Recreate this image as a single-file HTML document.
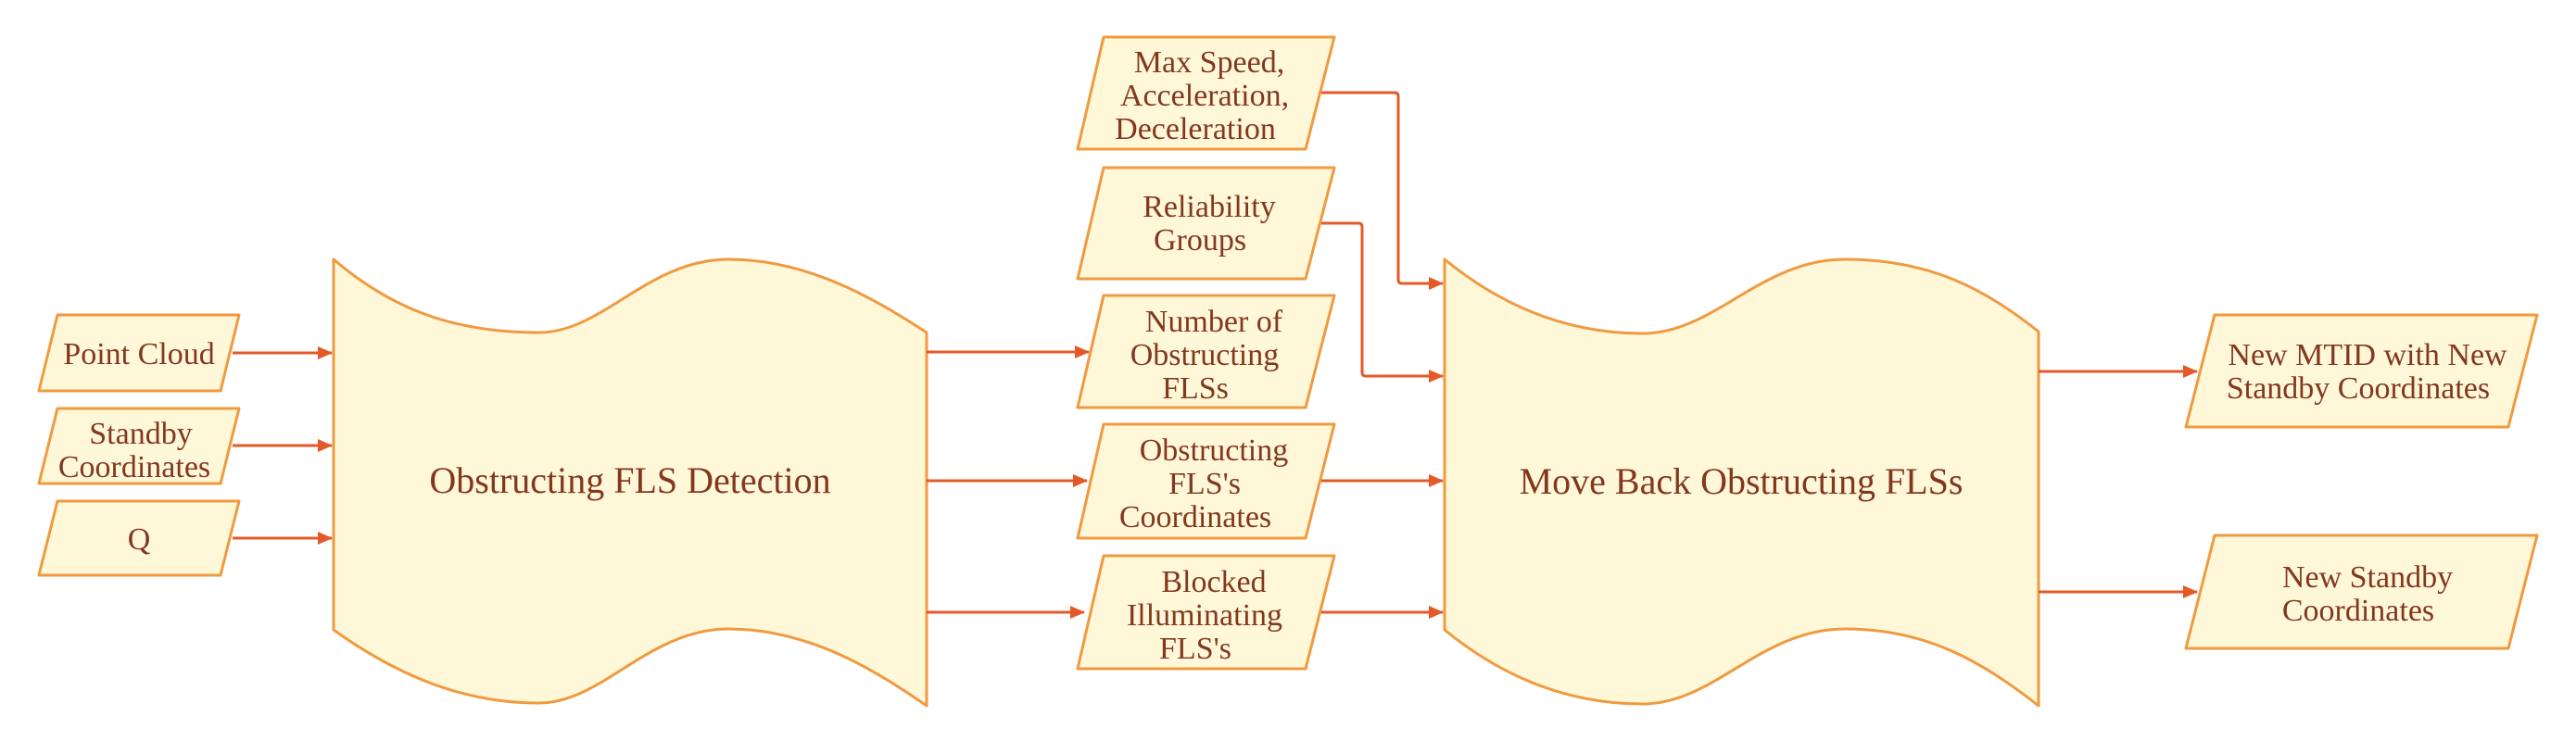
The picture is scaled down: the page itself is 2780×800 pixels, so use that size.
<!DOCTYPE html>
<html><head><meta charset="utf-8"><style>
html,body{margin:0;padding:0;background:#fff;}
svg{display:block;}
text{font-family:"Liberation Serif",serif;fill:#83371f;text-anchor:middle;}
</style></head><body>
<svg width="2780" height="800" viewBox="0 0 2780 800" xmlns="http://www.w3.org/2000/svg">
<defs>
<marker id="a" markerWidth="16" markerHeight="14" refX="15" refY="7" orient="auto" markerUnits="userSpaceOnUse">
<path d="M0,0 L16,7 L0,14 Z" fill="#e35a28"/>
</marker>
</defs>
<g fill="#fff8d8" stroke="#f09a40" stroke-width="3" stroke-linejoin="round">
<path d="M62,340 L258,340 L238,422 L42,422 Z"/>
<path d="M62,441 L258,441 L238,522 L42,522 Z"/>
<path d="M62,541 L258,541 L238,621 L42,621 Z"/>
<path d="M360,280 C430,340 500,359 582,359 C650,359 700,280 786,280 C870,280 940,320 1000,359 L1000,762 C940,720 870,679 786,679 C700,679 650,759 582,759 C500,759 430,730 360,680 Z"/>
<path d="M1191,40 L1440,40 L1409,161 L1163,161 Z"/>
<path d="M1191,181 L1440,181 L1409,301 L1163,301 Z"/>
<path d="M1191,319 L1440,319 L1409,440 L1163,440 Z"/>
<path d="M1191,458 L1440,458 L1409,581 L1163,581 Z"/>
<path d="M1191,600 L1440,600 L1409,722 L1163,722 Z"/>
<path d="M1559,280 C1620,330 1690,360 1773,360 C1850,360 1900,280 1991,280 C2080,280 2140,310 2200,358 L2200,762 C2140,715 2080,679 1991,679 C1900,679 1850,760 1773,760 C1690,760 1620,730 1559,680 Z"/>
<path d="M2390,340 L2738,340 L2707,461 L2359,461 Z"/>
<path d="M2390,578 L2738,578 L2707,700 L2359,700 Z"/>
</g>
<g stroke="#e35a28" stroke-width="3" fill="none" marker-end="url(#a)">
<path d="M251,381 L358,381"/>
<path d="M251,481 L358,481"/>
<path d="M251,581 L358,581"/>
<path d="M1000,380 L1175,380"/>
<path d="M1000,519 L1173,519"/>
<path d="M1000,661 L1170,661"/>
<path d="M1426,100 L1505,100 Q1509,100 1509,104 L1509,302 Q1509,306 1513,306 L1557,306"/>
<path d="M1426,241 L1466,241 Q1470,241 1470,245 L1470,402 Q1470,406 1474,406 L1557,406"/>
<path d="M1426,519 L1557,519"/>
<path d="M1426,661 L1557,661"/>
<path d="M2200,401 L2371,401"/>
<path d="M2200,639 L2371,639"/>
</g>
<g font-size="34">
<text x="150" y="393">Point Cloud</text>
<text x="152" y="479">Standby</text>
<text x="145" y="515">Coordinates</text>
<text x="150" y="593">Q</text>
<text x="1305" y="78">Max Speed,</text>
<text x="1300" y="114">Acceleration,</text>
<text x="1290" y="150">Deceleration</text>
<text x="1305" y="234">Reliability</text>
<text x="1295" y="270">Groups</text>
<text x="1310" y="358">Number of</text>
<text x="1300" y="394">Obstructing</text>
<text x="1290" y="430">FLSs</text>
<text x="1310" y="497">Obstructing</text>
<text x="1300" y="533">FLS's</text>
<text x="1290" y="569">Coordinates</text>
<text x="1310" y="639">Blocked</text>
<text x="1300" y="675">Illuminating</text>
<text x="1290" y="711">FLS's</text>
<text x="2555" y="394">New MTID with New</text>
<text x="2545" y="430">Standby Coordinates</text>
<text x="2555" y="634">New Standby</text>
<text x="2545" y="670">Coordinates</text>
</g>
<g font-size="40">
<text x="680" y="532">Obstructing FLS Detection</text>
<text x="1879" y="533">Move Back Obstructing FLSs</text>
</g>
</svg>
</body></html>
